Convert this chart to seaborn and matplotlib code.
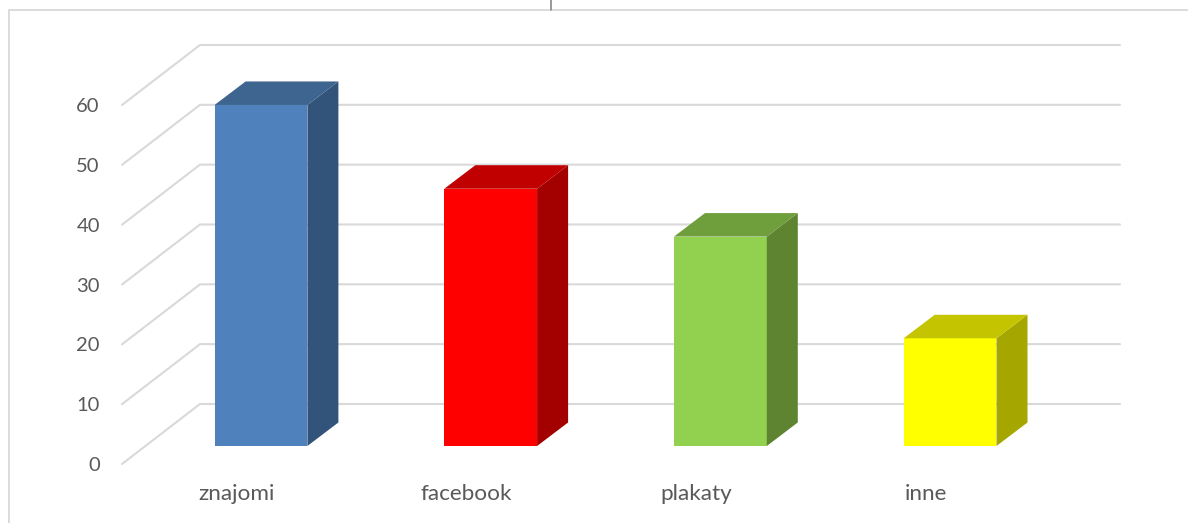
import matplotlib
matplotlib.use('Agg')
import numpy as np
import pandas as pd
import seaborn as sns
import matplotlib.pyplot as plt
from matplotlib.lines import Line2D
from matplotlib.patches import Polygon

# dane
kategorie = ['znajomi', 'facebook', 'plakaty', 'inne']
wartosci = [57, 43, 35, 18]
podzialka = [0, 10, 20, 30, 40, 50, 60]

# kolory: przod, bok, gora
kolor_przod = ['#4F81BD', '#FF0000', '#92D050', '#FFFF00']
kolor_bok = ['#32547A', '#A30000', '#5E8432', '#A6A600']
kolor_gora = ['#3E6590', '#C00000', '#6F9E3C', '#C4C400']

W, H = 1188, 523
PX_X = 229.7   # pikseli na kategorie
PX_Y = 5.98    # pikseli na jednostke
SZER = 0.404   # szerokosc slupka

sns.set_style('white')
plt.rcParams['font.family'] = ['Lato', 'DejaVu Sans']

fig = plt.figure(figsize=(W / 100, H / 100), dpi=100)
ax = fig.add_axes([122 / W, (H - 464) / H, (1120 - 122) / W, (464 - 45) / H])

df = pd.DataFrame({'kanal': kategorie, 'wartosc': wartosci})
sns.barplot(data=df, x='kanal', y='wartosc', hue='kanal', palette=kolor_przod,
            width=SZER, legend=False, saturation=1, linewidth=0, ax=ax, zorder=3)

ax.set_xlim((122 - 261) / PX_X, (1120 - 261) / PX_X)
przesun = 18 / PX_Y          # przednia krawedz podlogi ponizej slupkow
sciana_dx = 78 / PX_X
sciana_dy = 60 / PX_Y
ax.set_ylim(-przesun, 60 - przesun + sciana_dy)

# siatka 3D: skos na bocznej scianie + linia na tylnej
x0 = ax.get_xlim()[0]
x1 = ax.get_xlim()[1]
for v in podzialka:
    yp = v - przesun
    ax.plot([x0, x0 + sciana_dx, x1], [yp, yp + sciana_dy, yp + sciana_dy],
            color='#D9D9D9', lw=1.5, zorder=1, clip_on=False,
            solid_joinstyle='miter')

# bok i gora kazdego slupka
gl_dx = 31 / PX_X
gl_dy = 23.5 / PX_Y
for i, v in enumerate(wartosci):
    l = i - SZER / 2
    r = i + SZER / 2
    ax.add_patch(Polygon([(r, 0), (r + gl_dx, gl_dy), (r + gl_dx, v + gl_dy), (r, v)],
                         closed=True, fc=kolor_bok[i], ec='none', zorder=3))
    ax.add_patch(Polygon([(l, v), (l + gl_dx, v + gl_dy), (r + gl_dx, v + gl_dy), (r, v)],
                         closed=True, fc=kolor_gora[i], ec='none', zorder=3))

ax.set_xticks(np.arange(4) - 24 / PX_X, labels=kategorie)
ax.set_yticks(np.array(podzialka) - przesun, labels=podzialka)
ax.tick_params(axis='y', length=0, pad=16, labelsize=14.5, labelcolor='#595959')
ax.tick_params(axis='x', length=0, pad=14.5, labelsize=16.2, labelcolor='#595959')
ax.set_xlabel('')
ax.set_ylabel('')
sns.despine(ax=ax, left=True, bottom=True)
ax.patch.set_alpha(0)

# ramka obiektu
kolor_ramki = '#D9D9D9'
fig.add_artist(Line2D([9 / W, 9 / W, 1], [0, 1 - 10 / H, 1 - 10 / H],
                      color=kolor_ramki, lw=1.3))
fig.add_artist(Line2D([551 / W, 551 / W], [1 - 10 / H, 1], color='#7F7F7F', lw=1.1))

fig.savefig('out.png', dpi=100, facecolor='white')
